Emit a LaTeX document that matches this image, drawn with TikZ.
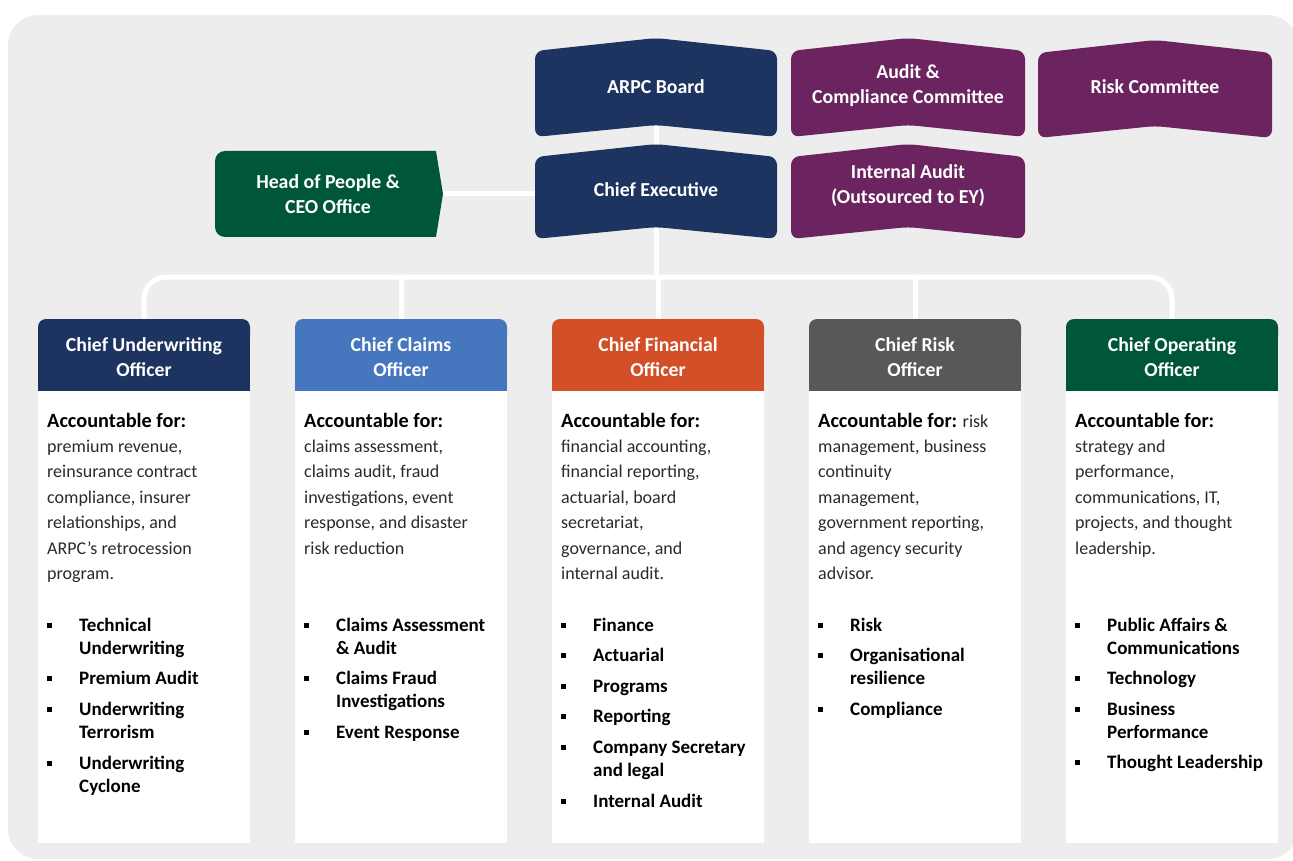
\documentclass[tikz,border=0pt]{standalone}
\usepackage{fontspec}
\setmainfont{Carlito}
\usetikzlibrary{backgrounds}

\definecolor{navy}{HTML}{1D3461}
\definecolor{plum}{HTML}{6C2461}
\definecolor{pine}{HTML}{00563A}
\definecolor{sky}{HTML}{4677BE}
\definecolor{rust}{HTML}{D24F27}
\definecolor{slate}{HTML}{585858}
\definecolor{panel}{HTML}{EDEDED}
\definecolor{ink}{HTML}{2B2B2B}

\newcommand\hdsize{\fontsize{19.8pt}{25pt}\selectfont}
\newcommand\txtsize{\fontsize{18pt}{25.4pt}\selectfont}
\newcommand\lstsize{\fontsize{19pt}{23pt}\selectfont}
\newcommand\sq{\rule[3.5pt]{5pt}{5pt}}
\newcommand\accfor{{\color{black}\fontsize{20.3pt}{25.4pt}\selectfont\bfseries Accountable for:}}
% box with a raised top edge and a notched bottom edge
\newcommand\chevron[5]{%
  \fill[#1, rounded corners=8pt] ({(#2+#3)/2},#4-13) -- (#3,#4) -- (#3,#5)
    -- ({(#2+#3)/2},#5-12) -- (#2,#5) -- (#2,#4) -- cycle;}

\tikzset{
  toptext/.style={text=white, font=\hdsize\bfseries, align=center, inner sep=0pt},
  headtext/.style={toptext, minimum width=212pt, minimum height=76pt},
  acct/.style={text=ink, font=\txtsize, inner sep=0pt, anchor=base west},
  duties/.style={font=\lstsize\bfseries, inner sep=0pt, anchor=base west},
  link/.style={draw=white, line width=5pt},
}

\begin{document}
\begin{tikzpicture}[x=1pt, y=-1pt]
\useasboundingbox (0,0) rectangle (1293,861);

% Board, committees and CEO
\node[toptext] (board) at (656,87) {ARPC Board};
\node[toptext] (acc)   at (908,86) {Audit \&\\Compliance Committee};
\node[toptext] (riskc) at (1155,87) {Risk Committee};
\node[toptext] (ceo)   at (656,190) {Chief Executive};
\node[toptext] (ia)    at (908,186) {Internal Audit\\(Outsourced to EY)};
\node[toptext] (hop)   at (328,194) {Head of People \&\\CEO Office};

% Officer headers
\foreach \nm/\x/\ttl in {cuo/38/{Chief Underwriting\\Officer},
    cco/295/{Chief Claims\\Officer}, cfo/552/{Chief Financial\\Officer},
    cro/809/{Chief Risk\\Officer}, coo/1066/{Chief Operating\\Officer}}
  \node[headtext] (\nm) at (\x+106,357) {\ttl};

% Accountabilities
\node[acct] (cuoacc) at (47,427) {\begin{tabular}[t]{@{}l@{}}
  \accfor\\ premium revenue,\\ reinsurance contract\\
  compliance, insurer\\ relationships, and\\ ARPC’s retrocession\\ program.\end{tabular}};
\node[acct] (ccoacc) at (304,427) {\begin{tabular}[t]{@{}l@{}}
  \accfor\\ claims assessment,\\ claims audit, fraud\\
  investigations, event\\ response, and disaster\\ risk reduction\end{tabular}};
\node[acct] (cfoacc) at (561,427) {\begin{tabular}[t]{@{}l@{}}
  \accfor\\ financial accounting,\\ financial reporting,\\
  actuarial, board\\ secretariat,\\ governance, and\\ internal audit.\end{tabular}};
\node[acct] (croacc) at (818,427) {\begin{tabular}[t]{@{}l@{}}
  \accfor{} risk\\ management, business\\ continuity\\
  management,\\ government reporting,\\ and agency security\\ advisor.\end{tabular}};
\node[acct] (cooacc) at (1075,427) {\begin{tabular}[t]{@{}l@{}}
  \accfor\\ strategy and\\ performance,\\
  communications, IT,\\ projects, and thought\\ leadership.\end{tabular}};

% Teams
\node[duties] (cuolst) at (47,631) {\begin{tabular}[t]{@{}l@{\hspace{27pt}}l@{}}
  \sq & Technical\\ & Underwriting\\[7.5pt] \sq & Premium Audit\\[7.5pt]
  \sq & Underwriting\\ & Terrorism\\[8pt] \sq & Underwriting\\ & Cyclone\end{tabular}};
\node[duties] (ccolst) at (304,631) {\begin{tabular}[t]{@{}l@{\hspace{27pt}}l@{}}
  \sq & Claims Assessment\\ & \& Audit\\[7.5pt] \sq & Claims Fraud\\ & Investigations\\[7.5pt]
  \sq & Event Response\end{tabular}};
\node[duties] (cfolst) at (561,631) {\begin{tabular}[t]{@{}l@{\hspace{27pt}}l@{}}
  \sq & Finance\\[7.5pt] \sq & Actuarial\\[7.5pt] \sq & Programs\\[7.5pt] \sq & Reporting\\[7.5pt]
  \sq & Company Secretary\\ & and legal\\[8pt] \sq & Internal Audit\end{tabular}};
\node[duties] (crolst) at (818,631) {\begin{tabular}[t]{@{}l@{\hspace{27pt}}l@{}}
  \sq & Risk\\[7.5pt] \sq & Organisational\\ & resilience\\[7.5pt] \sq & Compliance\end{tabular}};
\node[duties] (coolst) at (1075,631) {\begin{tabular}[t]{@{}l@{\hspace{27pt}}l@{}}
  \sq & Public Affairs \&\\ & Communications\\[7.5pt] \sq & Technology\\[7.5pt]
  \sq & Business\\ & Performance\\[7.5pt] \sq & Thought Leadership\end{tabular}};

\begin{pgfonlayer}{background}
  % Panel
  \fill[panel, rounded corners=30pt] (8,15) rectangle (1298,859);

  % Reporting lines
  \coordinate (bus) at (656,277);
  \draw[link] (board) -- (ceo);
  \draw[link] (hop.east) -- (hop.east -| ceo.west);
  \draw[link] (ceo) -- (bus);
  \draw[link, rounded corners=22pt] (cuo.north) |- (bus) -| (coo.north);
  \foreach \nm in {cco,cfo,cro}
    \draw[link] (\nm.north) -- (\nm.north |- bus);

  % Boxes
  \chevron{navy}{535}{777}{51}{137}
  \chevron{plum}{791}{1025}{51}{137}
  \chevron{plum}{1038}{1272}{53}{138}
  \chevron{navy}{535}{777}{157}{239}
  \chevron{plum}{791}{1025}{157}{239}
  \fill[pine, rounded corners=10pt] (215,151) rectangle (437,237);
  \fill[pine] (425,151) -- (436,151) -- (443,194) -- (436,237) -- (425,237) -- cycle;

  % Officer columns
  \foreach \x/\col in {38/navy, 295/sky, 552/rust, 809/slate, 1066/pine}{
    \fill[white] (\x,391) rectangle (\x+212,843);
    \fill[\col, rounded corners=8pt] (\x,319) rectangle (\x+212,345);
    \fill[\col] (\x,330) rectangle (\x+212,391);
  }
\end{pgfonlayer}
\end{tikzpicture}
\end{document}
